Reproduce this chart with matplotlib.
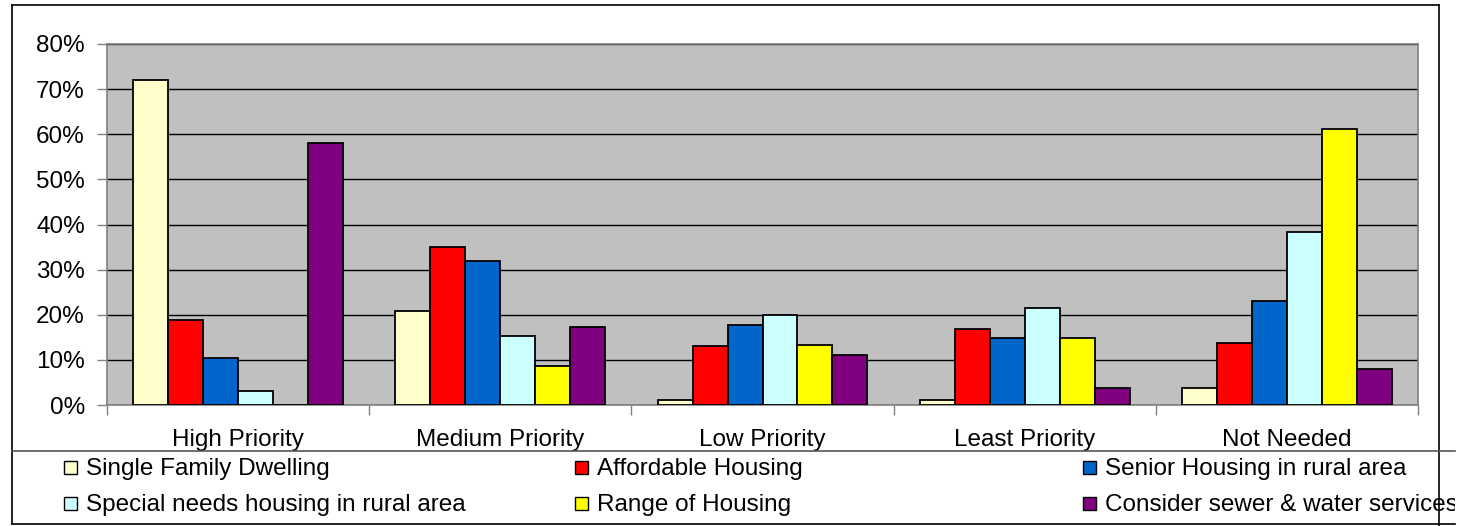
import numpy as np
import matplotlib.pyplot as plt
from matplotlib.patches import Rectangle
from matplotlib.lines import Line2D
from matplotlib.transforms import Bbox

plt.rcParams['font.family'] = ['Liberation Sans', 'DejaVu Sans']

# data (percent)
categories = ["High Priority", "Medium Priority", "Low Priority", "Least Priority", "Not Needed"]
series = ["Single Family Dwelling", "Affordable Housing", "Senior Housing in rural area",
          "Special needs housing in rural area", "Range of Housing", "Consider sewer & water services"]
colors = ["#FFFFCC", "#FF0000", "#0066CC", "#CCFFFF", "#FFFF00", "#800080"]
single_family = [72.0, 20.8, 1.1, 1.1, 3.8]
affordable = [18.8, 35.0, 13.1, 16.9, 13.8]
senior = [10.4, 31.9, 17.7, 14.9, 23.1]
special_needs = [3.1, 15.3, 20.0, 21.5, 38.4]
range_housing = [0.0, 8.6, 13.3, 14.9, 61.2]
sewer_water = [58.1, 17.3, 11.1, 3.8, 8.0]
values = [single_family, affordable, senior, special_needs, range_housing, sewer_water]

W, H = 1463, 526
FS = 17.5
fig = plt.figure(figsize=(W / 100, H / 100), dpi=100)

def fx(px):
    return px / W

def fy(py):
    return 1 - py / H

ax = fig.add_axes([fx(107), fy(405), fx(1418) - fx(107), fy(44) - fy(405)])
ax.set_facecolor("#C0C0C0")

x = np.arange(len(categories))
bw = 1 / 7.5
for i, (vals, c) in enumerate(zip(values, colors)):
    ax.bar(x + (i - 2.5) * bw, vals, width=bw, color=c, edgecolor="black",
           linewidth=1.3, zorder=3)

ax.set_xlim(-0.5, len(categories) - 0.5)
ax.set_ylim(0, 80)
ax.set_yticks(np.arange(0, 81, 10))
ax.set_yticklabels([f"{v}%" for v in range(0, 81, 10)], fontsize=FS)
ax.yaxis.grid(True, color="black", linewidth=1.0, zorder=1)
ax.set_axisbelow(True)

ax.set_xticks(x)
ax.set_xticklabels(categories, fontsize=FS)
ax.tick_params(axis="x", length=0, pad=17)
ax.set_xticks(np.arange(-0.5, len(categories), 1), minor=True)
ax.tick_params(axis="x", which="minor", length=7, color="#808080", width=1)
ax.tick_params(axis="y", length=7, color="#808080", width=1, pad=9)

for s in ax.spines.values():
    s.set_color("#808080")
    s.set_linewidth(1.2)

# outer chart border and legend box
lc = "black"
fig.add_artist(Line2D([fx(12), fx(1439)], [fy(5), fy(5)], color=lc, lw=1.2))
fig.add_artist(Line2D([fx(12), fx(12)], [fy(5), fy(524)], color=lc, lw=1.2))
fig.add_artist(Line2D([fx(1439), fx(1439)], [fy(5), fy(526)], color=lc, lw=1.2))
fig.add_artist(Line2D([fx(12), fx(1455)], [fy(451), fy(451)], color="#555555", lw=1.2))
fig.add_artist(Line2D([fx(12), fx(1455)], [fy(524), fy(524)], color=lc, lw=1.2))

# legend
col_x = [64, 575, 1083]
row_y = [469, 505]
clip = Bbox([[0, 0], [1455, H]])
for k, (name, c) in enumerate(zip(series, colors)):
    cx = col_x[k % 3]
    cy = row_y[k // 3]
    fig.add_artist(Rectangle((fx(cx), fy(cy + 5)), fx(13), fy(0) - fy(13),
                             facecolor=c, edgecolor="black", lw=1.0))
    t = fig.text(fx(cx + 22), fy(cy), name, fontsize=FS, va="center", ha="left")
    t.set_clip_box(clip)
    t.set_clip_on(True)

fig.savefig("out.png", dpi=100)
